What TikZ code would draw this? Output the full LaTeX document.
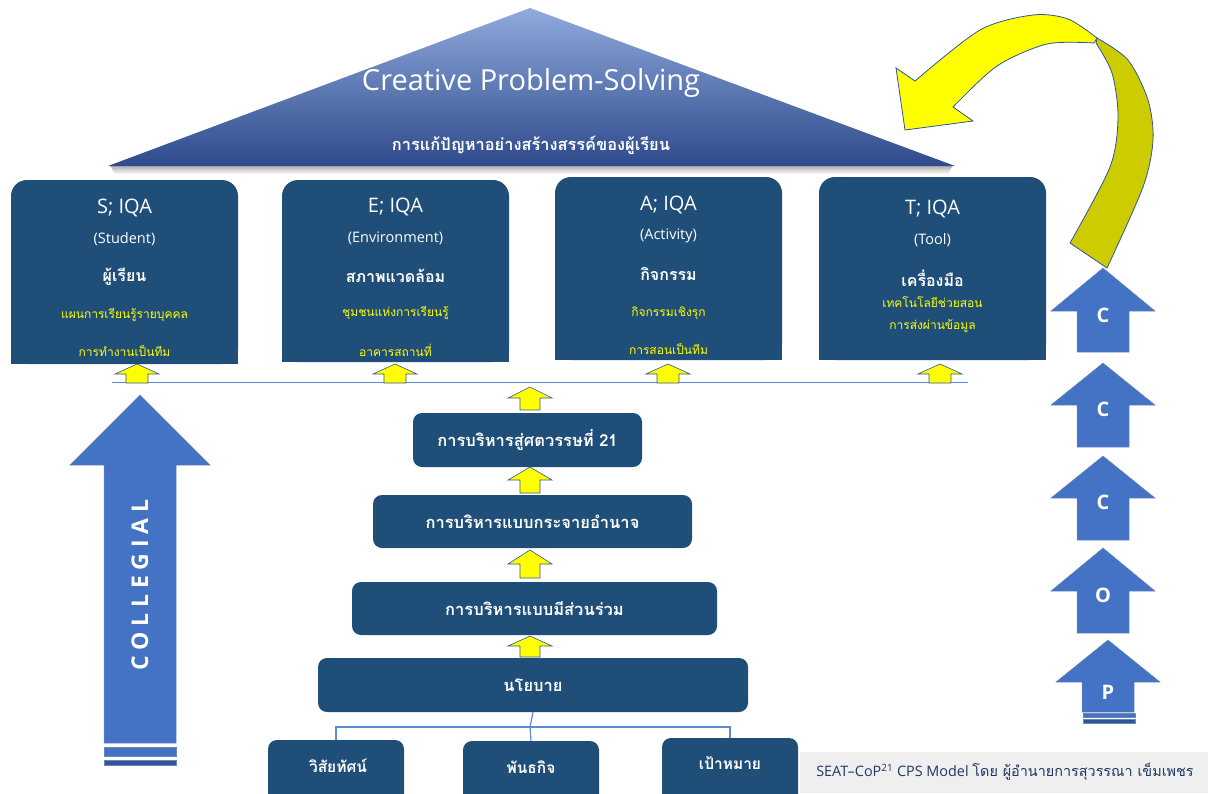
\documentclass[tikz,border=0pt]{standalone}
\usepackage{fontspec}
\setmainfont{Open Sans}
\newfontfamily\thai[Script=Thai]{Loma}
\definecolor{boxblue}{HTML}{1F4E79}
\definecolor{arrblue}{HTML}{4472C4}
\definecolor{arredge}{HTML}{2F5597}
\definecolor{yel}{HTML}{FFFF00}
\definecolor{darkyel}{HTML}{CCCC00}
\definecolor{roofTop}{HTML}{8FAADC}
\definecolor{roofBot}{HTML}{2E4A8B}
\definecolor{capgrey}{HTML}{EFEFEF}
\definecolor{captext}{HTML}{1F3864}
\definecolor{connblue}{HTML}{5B8BD0}
\newcommand\BlockUp[7]{%
  \path[#7] (#1,#2) -- ({#1+#5},#3) -- ({#1+#6},#3) -- ({#1+#6},#4) -- ({#1-#6},#4) -- ({#1-#6},#3) -- ({#1-#5},#3) -- cycle;}
\tikzset{
  bigbox/.style={fill=boxblue, rounded corners=16pt, inner sep=0pt, draw=none},
  midbox/.style={fill=boxblue, rounded corners=9pt, inner sep=0pt, draw=none, text=white, font=\thai\bfseries\fontsize{16.5}{20}\selectfont},
  hdr/.style={text=white, font=\fontsize{20}{22}\selectfont},
  subt/.style={text=white, font=\fontsize{14.5}{16}\selectfont},
  thb/.style={text=white, font=\thai\bfseries\fontsize{16}{20}\selectfont},
  thy/.style={text=yel, font=\thai\fontsize{12}{14}\selectfont},
  botlab/.style={text=white, font=\thai\bfseries\fontsize{15.5}{18}\selectfont},
  ya/.style={fill=yel, draw=arredge, line width=0.6pt},
  ba/.style={fill=arrblue, draw=arredge!70, line width=0.5pt},
  letter/.style={text=white, font=\bfseries\fontsize{20}{22}\selectfont},
  conn/.style={draw=connblue, line width=1.2pt},
}
\begin{document}
\begin{tikzpicture}[x=1pt,y=-1pt]
\useasboundingbox (0,0) rectangle (1208,793);
% roof shadow and roof
\shade[top color=black!35, bottom color=white] (110,165) -- (953,165) -- (948,174) -- (115,174) -- cycle;
\coordinate (roofL) at (108,166);
\coordinate (roofA) at (530,8);
\coordinate (roofR) at (955,166);
\shade[top color=roofTop, bottom color=roofBot] (roofL) -- (roofA) -- (roofR) -- cycle;
\node[text=white, font=\fontsize{29}{32}\selectfont] (cps) at (531,83) {Creative Problem-Solving};
\node[text=white, font=\thai\bfseries\fontsize{16.4}{20}\selectfont] (cpsth) at (531,145) {การแก้ปัญหาอย่างสร้างสรรค์ของผู้เรียน};

% four IQA boxes
\node[bigbox, minimum width=227pt, minimum height=184pt] (S) at (124.5,272) {};
\node[bigbox, minimum width=227pt, minimum height=182pt] (E) at (395.5,271) {};
\node[bigbox, minimum width=227pt, minimum height=183pt] (A) at (668.5,268.5) {};
\node[bigbox, minimum width=227pt, minimum height=183pt] (T) at (932.5,268.5) {};
\foreach \b in {S,E,A,T}{\fill[boxblue] (\b.west) rectangle (\b.south east);}

\node[hdr] (s1) at (124.5,208) {S; IQA};
\node[subt] (s2) at (124.5,239) {(Student)};
\node[thb] (s3) at (124.5,277) {ผู้เรียน};
\node[thy] (s4) at (124.5,315) {แผนการเรียนรู้รายบุคคล};
\node[thy] (s5) at (124.5,351) {การทำงานเป็นทีม};

\node[hdr] (e1) at (395.5,207) {E; IQA};
\node[subt] (e2) at (395.5,238) {(Environment)};
\node[thb] (e3) at (395.5,276) {สภาพแวดล้อม};
\node[thy] (e4) at (395.5,313) {ชุมชนแห่งการเรียนรู้};
\node[thy] (e5) at (395.5,350) {อาคารสถานที่};

\node[hdr] (a1) at (668.5,205) {A; IQA};
\node[subt] (a2) at (668.5,236) {(Activity)};
\node[thb] (a3) at (668.5,274) {กิจกรรม};
\node[thy] (a4) at (668.5,313) {กิจกรรมเชิงรุก};
\node[thy] (a5) at (668.5,349) {การสอนเป็นทีม};

\node[hdr] (t1) at (932.5,209) {T; IQA};
\node[subt] (t2) at (932.5,240) {(Tool)};
\node[thb] (t3) at (932.5,278) {เครื่องมือ};
\node[thy] (t4) at (932.5,302) {เทคโนโลยีช่วยสอน};
\node[thy] (t5) at (932.5,326) {การส่งผ่านข้อมูล};

% horizontal line
\coordinate (hl) at (112,382);
\coordinate (hr) at (968,382);
\draw[conn, line width=1pt] (hl) -- (hr);
% small yellow arrows under boxes
\BlockUp{137}{364}{374}{383}{22}{11}{ya}
\BlockUp{395}{364}{374}{383}{22}{11}{ya}
\BlockUp{668}{364}{374}{383}{22}{11}{ya}
\BlockUp{940}{364}{374}{383}{22}{11}{ya}

% central column
\BlockUp{530}{387}{398}{410}{22}{10}{ya}
\node[midbox, minimum width=229pt, minimum height=54pt] (m21) at (527.5,440) {การบริหารสู่ศตวรรษที่ 21};
\BlockUp{530}{467}{480}{493}{22}{10}{ya}
\node[midbox, minimum width=319pt, minimum height=53pt] (mdec) at (532.5,521.5) {การบริหารแบบกระจายอำนาจ};
\BlockUp{530}{550}{564}{578}{22}{10}{ya}
\node[midbox, minimum width=365pt, minimum height=53pt] (mpart) at (534.5,608.5) {การบริหารแบบมีส่วนร่วม};
\BlockUp{530}{636}{646}{657}{22}{10}{ya}
\node[midbox, minimum width=430pt, minimum height=54pt] (policy) at (533,685) {นโยบาย};

% bottom boxes
\node[midbox, minimum width=136pt, minimum height=70pt] (vision) at (336,775) {};
\node[midbox, minimum width=136pt, minimum height=70pt] (mission) at (531,776) {};
\node[midbox, minimum width=136pt, minimum height=70pt] (goal) at (730,773) {};
\node[botlab] (visiont) at (338,766) {วิสัยทัศน์};
\node[botlab] (missiont) at (531,767) {พันธกิจ};
\node[botlab] (goalt) at (730,763) {เป้าหมาย};
\coordinate (bus) at (530,727);
\draw[conn] (policy.south) -- (bus);
\draw[conn] (bus) -| (vision.north);
\draw[conn] (bus) -| (goal.north);
\draw[conn] (bus) -- (mission.north);

% COLLEGIAL arrow
\BlockUp{140}{395}{465}{743}{70}{36}{ba}
\filldraw[fill=arrblue, draw=arredge!70, line width=0.5pt] (104,747) rectangle (176,756);
\filldraw[fill=arredge, draw=arredge!70, line width=0.5pt] (104,760) rectangle (176,765);
\node[rotate=90, text=white, font=\bfseries\fontsize{23}{25}\selectfont\addfontfeature{LetterSpace=25}] (collegial) at (140,585) {COLLEGIAL};

% PLC arrows on the right
\BlockUp{1103}{268}{311}{352}{52}{26}{ba}
\BlockUp{1103}{363}{405}{447}{52}{26}{ba}
\BlockUp{1103}{456}{498}{540}{52}{26}{ba}
\BlockUp{1103}{548}{591}{633}{52}{26}{ba}
\BlockUp{1108}{640}{682}{712}{52}{26}{ba}
\filldraw[fill=arrblue, draw=arredge!70, line width=0.5pt] (1083,713) rectangle (1135,717);
\filldraw[fill=arredge, draw=arredge!70, line width=0.5pt] (1083,719) rectangle (1135,723);
\node[letter] (c1) at (1103,315) {C};
\node[letter] (c2) at (1103,409) {C};
\node[letter] (c3) at (1103,502) {C};
\node[letter] (o1) at (1103,595) {O};
\node[letter] (p1) at (1108,692) {P};

% curved yellow arrow
\filldraw[fill=darkyel, draw=arredge, line width=0.8pt]
  plot[smooth] coordinates {(1097,38) (1128,60) (1148,100) (1153,140) (1143,187) (1107,268)}
  -- (1070,243)
  -- plot[smooth] coordinates {(1070,243) (1110,167) (1118,117) (1112,73) (1096,43)} -- cycle;
\filldraw[fill=yel, draw=arredge, line width=0.8pt]
  (915,81) -- (896,68) -- (905,130) -- (973,121) -- (953,107)
  -- plot[smooth] coordinates {(953,107) (997,66) (1047,44) (1094,43)}
  -- (1097,38)
  -- plot[smooth] coordinates {(1097,38) (1068,19) (1033,15) (980,30) (915,81)} -- cycle;

% caption
\fill[capgrey] (800,752) rectangle (1208,793);
\node[text=captext, font=\fontsize{14.4}{16}\selectfont] (caption) at (1005,772)
  {SEAT--CoP\textsuperscript{21} CPS Model {\thai โดย ผู้อำนายการสุวรรณา เข็มเพชร}};
\end{tikzpicture}
\end{document}
